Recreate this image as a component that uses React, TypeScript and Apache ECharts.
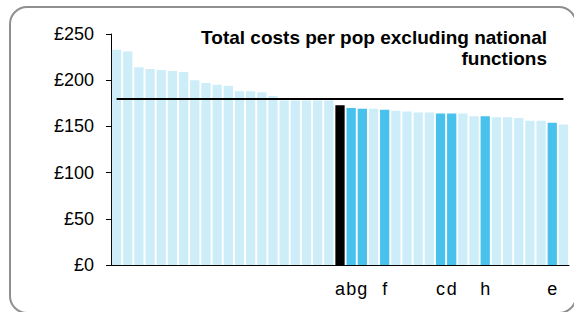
import React, { useEffect, useRef } from "react";
import * as echarts from "echarts";

const categories = [
  "", "", "", "", "", "", "", "", "", "", "", "", "", "", "", "", "", "", "", "",
  "a", "b", "g", "", "f", "", "", "", "", "c", "d", "", "", "h", "", "", "", "", "", "e", "",
];
const values = [
  233, 231, 214, 212, 211, 210, 209, 200, 197, 195, 194, 188, 188, 187, 183, 178, 178, 178, 178, 178,
  173, 170, 169, 169, 168, 167, 166, 165, 165, 164, 164, 164, 161, 161, 160, 160, 159, 156, 156, 154, 152,
];
// 0 = other, 1 = highlighted, 2 = selected
const kinds = [
  0, 0, 0, 0, 0, 0, 0, 0, 0, 0, 0, 0, 0, 0, 0, 0, 0, 0, 0, 0,
  2, 1, 1, 0, 1, 0, 0, 0, 0, 1, 1, 0, 0, 1, 0, 0, 0, 0, 0, 1, 0,
];
const averageValue = 180;
const titleLines = ["Total costs per pop excluding national", "functions"];
const yTicks = { min: 0, max: 250, interval: 50 };

const FONT = "'Liberation Sans', Arial, sans-serif";
const kindColors = ["#CDEDF9", "#48C1EC", "#000000"];

export default function App() {
  const ref = useRef<HTMLDivElement>(null);
  useEffect(() => {
    document.body.style.margin = "0";
    const chart = echarts.init(ref.current!, null, { renderer: "svg" });
    chart.setOption({
      animation: false,
      backgroundColor: "#ffffff",
      textStyle: { fontFamily: FONT },
      graphic: [
        {
          type: "rect",
          shape: { x: 10, y: 7, width: 566, height: 306, r: 17 },
          style: { fill: "none", stroke: "#8f8f8f", lineWidth: 2 },
          silent: true,
          z: 100,
        },
        {
          type: "text",
          x: 547,
          y: 27,
          silent: true,
          z: 100,
          style: {
            text: titleLines.join("\n"),
            align: "right",
            verticalAlign: "top",
            fontFamily: FONT,
            fontSize: 19,
            fontWeight: "bold",
            lineHeight: 21,
            fill: "#000",
          },
        },
      ],
      grid: { left: 111, right: 5, top: 34, bottom: 47, containLabel: false },
      xAxis: {
        type: "category",
        data: categories,
        axisLine: { show: true, lineStyle: { color: "#000", width: 1 } },
        axisTick: { show: false },
        axisLabel: { interval: 0, fontSize: 18, color: "#000", margin: 15, fontFamily: FONT },
        splitLine: { show: false },
      },
      yAxis: {
        type: "value",
        min: yTicks.min,
        max: yTicks.max,
        interval: yTicks.interval,
        axisLine: { show: true, lineStyle: { color: "#000", width: 1 } },
        axisTick: { show: true, length: 5, lineStyle: { color: "#000" } },
        axisLabel: { formatter: "£{value}", fontSize: 18, color: "#000", margin: 17, fontFamily: FONT },
        splitLine: { show: false },
      },
      series: [
        {
          type: "bar",
          barCategoryGap: "17%",
          data: values.map((v, i) => ({ value: v, itemStyle: { color: kindColors[kinds[i]] } })),
          markLine: {
            silent: true,
            symbol: "none",
            label: { show: false },
            lineStyle: { color: "#000", width: 2, type: "solid" },
            data: [[{ coord: [0, averageValue] }, { coord: [values.length - 1, averageValue] }]],
          },
        },
      ],
    });
    return () => chart.dispose();
  }, []);
  return <div ref={ref} style={{ width: 574, height: 312 }} />;
}
